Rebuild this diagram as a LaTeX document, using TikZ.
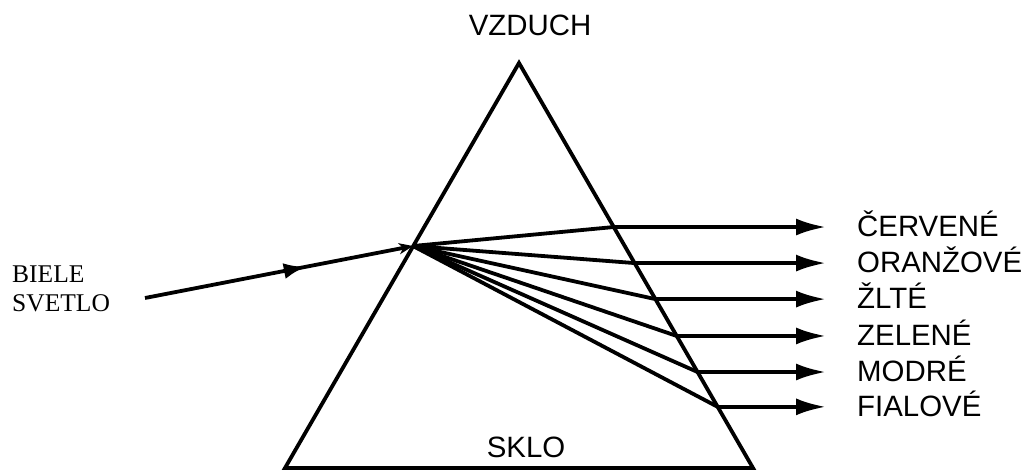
\documentclass[tikz,border=0pt]{standalone}
\usepackage{fontspec}
\setmainfont{Liberation Sans}
\newfontfamily\serifft{Liberation Serif}
\usetikzlibrary{arrows.meta,decorations.markings,calc}
\begin{document}
\begin{tikzpicture}[x=1pt,y=-1pt,
  prism/.style={line width=3.8pt,line join=miter},
  ray/.style={line width=3.8pt},
  outray/.style={line width=3.8pt,-{Latex[length=30pt,width=17pt]}},
  inray/.style={line width=3.8pt,-{Stealth[length=14pt,width=11pt,inset=4pt]},
    postaction={decorate},
    decoration={markings,mark=at position 0.6 with {\arrow{Latex[length=22pt,width=16pt]}}}},
  lab/.style={font=\fontsize{29.4}{31}\selectfont, anchor=base west, inner sep=0pt},
  ttl/.style={font=\fontsize{29.4}{31}\selectfont, anchor=base, inner sep=0pt}]
\useasboundingbox (0,0) rectangle (1026,470);
% prism
\coordinate (apex) at (519,63);
\coordinate (bl) at (285,468);
\coordinate (br) at (753,468);
\draw[prism] (apex) -- (bl) -- (br) -- cycle;
% entry point and source
\coordinate (entry) at (413,246);
\coordinate (src) at (145,298);
% exit points on right face
\coordinate (x1) at ($(apex)!0.405!(br)$);
\coordinate (x2) at ($(apex)!0.494!(br)$);
\coordinate (x3) at ($(apex)!0.583!(br)$);
\coordinate (x4) at ($(apex)!0.674!(br)$);
\coordinate (x5) at ($(apex)!0.763!(br)$);
\coordinate (x6) at ($(apex)!0.849!(br)$);
% arrow ends
\coordinate (t1) at (826,227);
\coordinate (t2) at (826,263);
\coordinate (t3) at (826,299);
\coordinate (t4) at (826,336);
\coordinate (t5) at (826,372);
\coordinate (t6) at (826,407);
% labels
\node[ttl] (air) at (530,36) {VZDUCH};
\node[ttl] (glass) at (526,457) {SKLO};
\node[font=\serifft\fontsize{25.5}{29}\selectfont, align=left, anchor=north west, inner sep=0pt] (white) at (12,266) {BIELE\\SVETLO};
\node[lab] (l1) at (857,237) {ČERVENÉ};
\node[lab] (l2) at (857,273) {ORANŽOVÉ};
\node[lab] (l3) at (857,309) {ŽLTÉ};
\node[lab] (l4) at (857,346) {ZELENÉ};
\node[lab] (l5) at (857,382) {MODRÉ};
\node[lab] (l6) at (857,417) {FIALOVÉ};
% incoming ray
\draw[inray] (src) -- (entry);
% inside rays
\foreach \i in {1,...,6} {
  \draw[ray] (entry) -- (x\i);
  \draw[outray] (x\i) -- (t\i |- x\i);
}
\end{tikzpicture}
\end{document}
